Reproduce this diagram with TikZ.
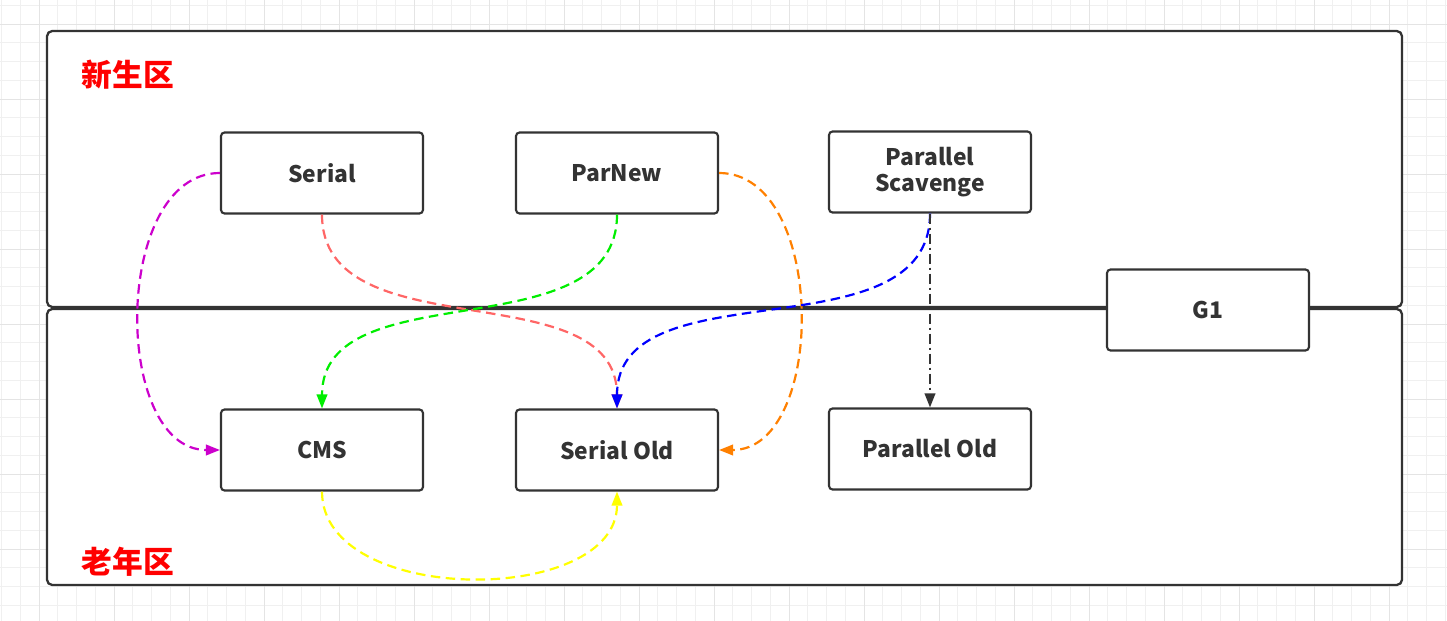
\documentclass[tikz,border=0pt]{standalone}
\usepackage{fontspec}
\newfontfamily\cjk{Noto Sans CJK SC}
\usetikzlibrary{arrows.meta}
\definecolor{linegray}{HTML}{333333}
\definecolor{gridminor}{HTML}{F0F0F0}
\definecolor{gridmajor}{HTML}{E4E4E4}
\definecolor{cmag}{HTML}{CC00CC}
\definecolor{csalmon}{HTML}{FF6666}
\definecolor{cgreen}{HTML}{00EE00}
\definecolor{corange}{HTML}{FF8000}
\definecolor{cblue}{HTML}{0000FF}
\definecolor{cyellow}{HTML}{FFFF00}

\begin{document}
\begin{tikzpicture}[x=0.02cm, y=-0.02cm, thick,
    gc/.style = {draw=linegray, line width=1.2pt, rounded corners=2pt, fill=white,
        minimum width=4.04cm, minimum height=1.62cm, align=center, text=linegray,
        font=\cjk\bfseries\fontsize{13}{15}\selectfont},
    region/.style = {draw=linegray, line width=1.3pt, rounded corners=3pt},
    zone/.style = {text=red, font=\cjk\bfseries\fontsize{17.5}{20}\selectfont},
    link/.style = {->, line width=1.25pt, dash pattern=on 0.19cm off 0.11cm},
    >={Triangle[length=0.28cm,width=0.21cm]}]
    \useasboundingbox (0,0) rectangle (1447,621);
    \fill[white] (0,0) rectangle (1447,621);

    % background grid
    \begin{scope}[line width=0.5pt]
        \clip (0,0) rectangle (1447,621);
        \foreach \i in {-2,...,75}
            \draw[gridminor] ({39+18.75*\i},0) -- ({39+18.75*\i},621);
        \foreach \i in {-1,...,32}
            \draw[gridminor] (0,{24+18.75*\i}) -- (1447,{24+18.75*\i});
        \foreach \i in {0,4,...,72}
            \draw[gridmajor] ({39+18.75*\i},0) -- ({39+18.75*\i},621);
        \foreach \i in {0,4,...,32}
            \draw[gridmajor] (0,{24+18.75*\i}) -- (1447,{24+18.75*\i});
    \end{scope}

    % regions
    \draw[region, fill=white] (47,31) rectangle (1402,307);
    \draw[region, fill=white] (47,309) rectangle (1402,585);
    \node[zone] (young) at (128,75) {新生区};
    \node[zone] (old) at (128,562) {老年区};

    % collectors
    \node[gc] (serial) at (322,173) {Serial};
    \node[gc] (parnew) at (617,173) {ParNew};
    \node[gc] (ps) at (930,172) {Parallel\\Scavenge};
    \node[gc] (cms) at (322,450) {CMS};
    \node[gc] (serialold) at (617,450) {Serial Old};
    \node[gc] (parold) at (930,449) {Parallel Old};
    \node[gc] (g1) at (1208,310) {G1};

    % combinations
    \path[link, cmag] (serial.west) edge [out=180, in=180] (cms.west);
    \path[link, csalmon] (serial.south) edge [out=-90, in=90] (serialold.north);
    \path[link, cgreen] (parnew.south) edge [out=-90, in=90] (cms.north);
    \path[link, corange] (parnew.east) edge [out=0, in=0] (serialold.east);
    \path[link, cblue] (ps.south) edge [out=-90, in=90] (serialold.north);
    \path[->, linegray, line width=1.2pt, dash pattern=on 0.2cm off 0.08cm on 0.04cm off 0.08cm]
        (ps.south) edge (parold.north);
    \path[link, cyellow] (cms.south) edge [out=-90, in=-90] (serialold.south);
\end{tikzpicture}
\end{document}
